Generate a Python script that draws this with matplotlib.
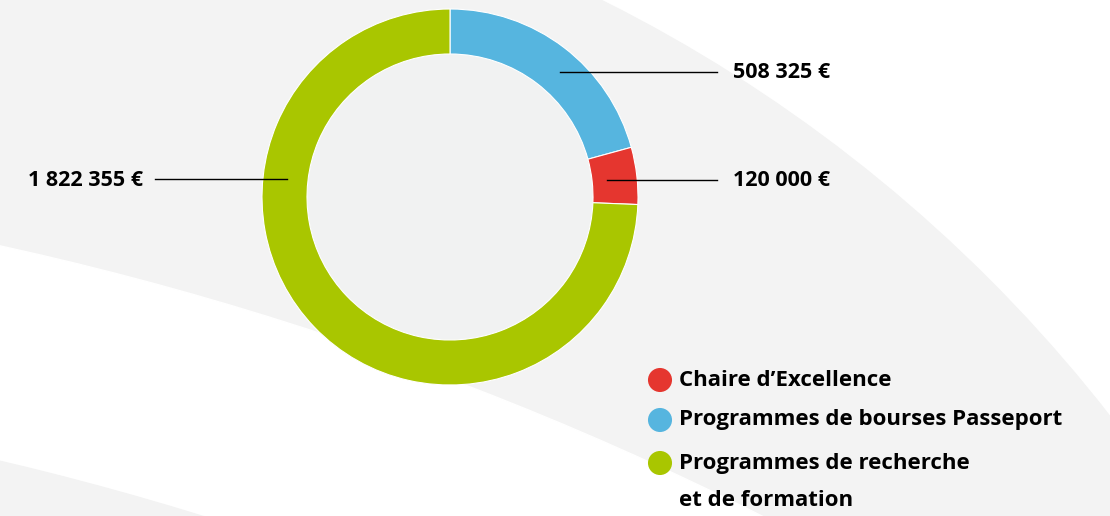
import numpy as np
import matplotlib.pyplot as plt
from matplotlib.patches import Circle

# donnees
categories = ["Programmes de bourses Passeport", "Chaire d\u2019Excellence",
              "Programmes de recherche\net de formation"]
montants = [508325, 120000, 1822355]
etiquettes = ["508 325 \u20ac", "120 000 \u20ac", "1 822 355 \u20ac"]
couleurs = ["#56b5df", "#e5362f", "#a9c600"]
ordre_legende = [1, 0, 2]

H = 516
fig = plt.figure(figsize=(11.1, 5.16), dpi=100)
ax = fig.add_axes([0, 0, 1, 1])
ax.set_xlim(0, 1110)
ax.set_ylim(0, H)
ax.set_aspect("equal")
ax.axis("off")
fig.patch.set_facecolor("white")

gris = "#f3f3f3"
# fond : grandes bandes courbes
ax.add_patch(Circle((-62, H - 1330), 1486, color=gris, zorder=0))
ax.add_patch(Circle((-692, H - 3407), 3236, color="white", zorder=0.1))
ax.add_patch(Circle((-692, H - 3407), 3026, color=gris, zorder=0.2))

# anneau
cx, cy, R = 450, H - 197, 188
ax.add_patch(Circle((cx, cy), R - 45, color="#f1f2f2", zorder=1))
ax.pie(montants, colors=couleurs, startangle=90, counterclock=False,
       center=(cx, cy), radius=R, frame=True,
       wedgeprops=dict(width=45, edgecolor="white", linewidth=0.8))
ax.set_xlim(0, 1110)
ax.set_ylim(0, H)
ax.axis("off")

police = "Open Sans"
poids = "bold"
# etiquettes de valeur
ax.plot([560, 717], [H - 72, H - 72], color="black", lw=1, zorder=5)
ax.text(733, H - 73, etiquettes[0], fontsize=15.5, fontweight=poids,
        family=police, va="center", ha="left")
ax.plot([607, 717], [H - 180, H - 180], color="black", lw=1, zorder=5)
ax.text(733, H - 181, etiquettes[1], fontsize=15.5, fontweight=poids,
        family=police, va="center", ha="left")
ax.plot([155, 287], [H - 179, H - 179], color="black", lw=1, zorder=5)
ax.text(143, H - 180, etiquettes[2], fontsize=15.5, fontweight=poids,
        family=police, va="center", ha="right")

# legende
ys = [380, 420, 463]
for y, i in zip(ys, ordre_legende):
    ax.scatter([660], [H - y], s=300, color=couleurs[i], edgecolors="none", zorder=5)
    for k, ligne in enumerate(categories[i].split("\n")):
        ax.text(679, H - y - 37 * k, ligne, fontsize=16, fontweight=poids,
                family=police, va="center", ha="left")

fig.savefig("out.png", dpi=100)
